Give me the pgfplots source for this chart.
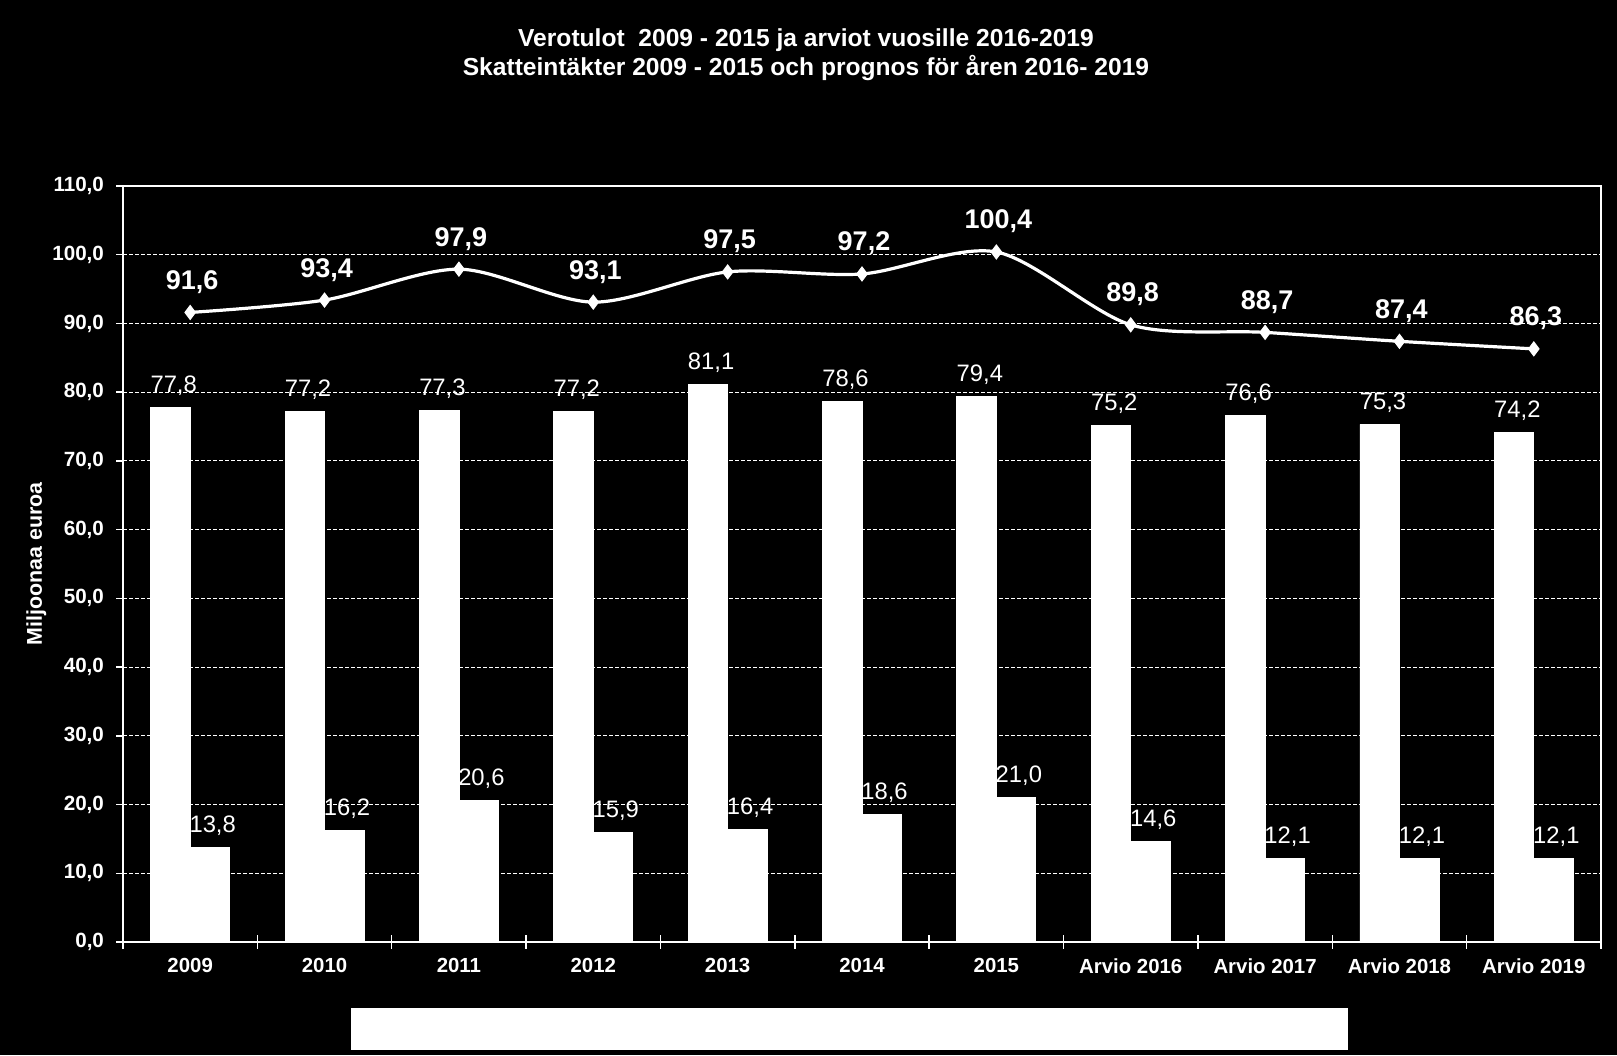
\documentclass[border=0pt]{standalone}
\usepackage{fontspec}
\setmainfont{Liberation Sans}
\usepackage{pgfplots}
\pgfplotsset{compat=1.18}
\begin{document}
\begin{tikzpicture}
\fill[black] (0,0) rectangle (808.5pt,527.5pt);
\useasboundingbox (0,0) rectangle (808.5pt,527.5pt);
\node[white, anchor=base, inner sep=0pt, font=\bfseries\fontsize{12.3}{14}\selectfont] at (403pt,504.2pt) {Verotulot\ \ 2009 - 2015 ja arviot vuosille 2016-2019};
\node[white, anchor=base, inner sep=0pt, font=\bfseries\fontsize{12.3}{14}\selectfont] at (403pt,489.5pt) {Skatteintäkter 2009 - 2015 och prognos för åren 2016- 2019};
\begin{axis}[
  at={(61.5pt,56.5pt)}, anchor=south west,
  scale only axis, width=739pt, height=378pt,
  xmin=-0.5, xmax=10.5, ymin=0, ymax=110,
  ytick={0,10,...,110},
  xtick={0,...,10},
  xticklabels={2009,2010,2011,2012,2013,2014,2015,Arvio 2016,Arvio 2017,Arvio 2018,Arvio 2019},
  minor xtick={-0.5,0.5,...,10.5},
  xtick pos=bottom, ytick pos=left,
  xtick align=center, ytick align=outside,
  major tick length=3.5pt, minor tick length=6.5pt,
  major x tick style={draw=none},
  tick style={white, line width=0.7pt},
  axis line style={white, line width=1.3pt},
  ymajorgrids,
  major grid style={white, line width=0.5pt, dash pattern=on 2pt off 1pt},
  /pgf/number format/.cd, fixed, fixed zerofill, precision=1, use comma, assume math mode=true,
  /pgfplots/.cd,
  yticklabel style={white, font=\bfseries\fontsize{10.3}{12}\selectfont, xshift=-2.5pt},
  xticklabel style={white, font=\bfseries\fontsize{10.2}{12}\selectfont, yshift=-3pt},
  ylabel={Miljoonaa euroa},
  every axis y label/.style={at={(rel axis cs:0,0.5)}, xshift=-40.6pt, rotate=90, anchor=base, inner sep=0pt, white, font=\bfseries\fontsize{10.7}{12}\selectfont},
  clip=false,
]
\addplot[ybar, bar width=19.75pt, bar shift=-9.875pt, fill=white, draw=white, line width=0.4pt,
  nodes near coords, every node near coord/.append style={white, font=\fontsize{11.9}{14}\selectfont, anchor=base, inner sep=0pt, yshift=7.5pt, xshift=-8.25pt}]
  coordinates {(0,77.8) (1,77.2) (2,77.3) (3,77.2) (4,81.1) (5,78.6) (6,79.4) (7,75.2) (8,76.6) (9,75.3) (10,74.2)};
\addplot[ybar, bar width=19.75pt, bar shift=9.875pt, fill=white, draw=white, line width=0.4pt,
  nodes near coords, every node near coord/.append style={white, font=\fontsize{11.9}{14}\selectfont, anchor=base, inner sep=0pt, yshift=7.5pt, xshift=11.25pt}]
  coordinates {(0,13.8) (1,16.2) (2,20.6) (3,15.9) (4,16.4) (5,18.6) (6,21.0) (7,14.6) (8,12.1) (9,12.1) (10,12.1)};
\addplot[white, line width=1.6pt, smooth, mark=diamond*, mark size=3.5pt, mark options={fill=white, line width=0.5pt},
  nodes near coords, every node near coord/.append style={white, font=\bfseries\fontsize{13.5}{15}\selectfont, anchor=base, inner sep=0pt, yshift=11.5pt, xshift=1pt}]
  coordinates {(0,91.6) (1,93.4) (2,97.9) (3,93.1) (4,97.5) (5,97.2) (6,100.4) (7,89.8) (8,88.7) (9,87.4) (10,86.3)};
\end{axis}
\fill[white] (175.5pt,2.5pt) rectangle (674pt,23.5pt);
\end{tikzpicture}
\end{document}
